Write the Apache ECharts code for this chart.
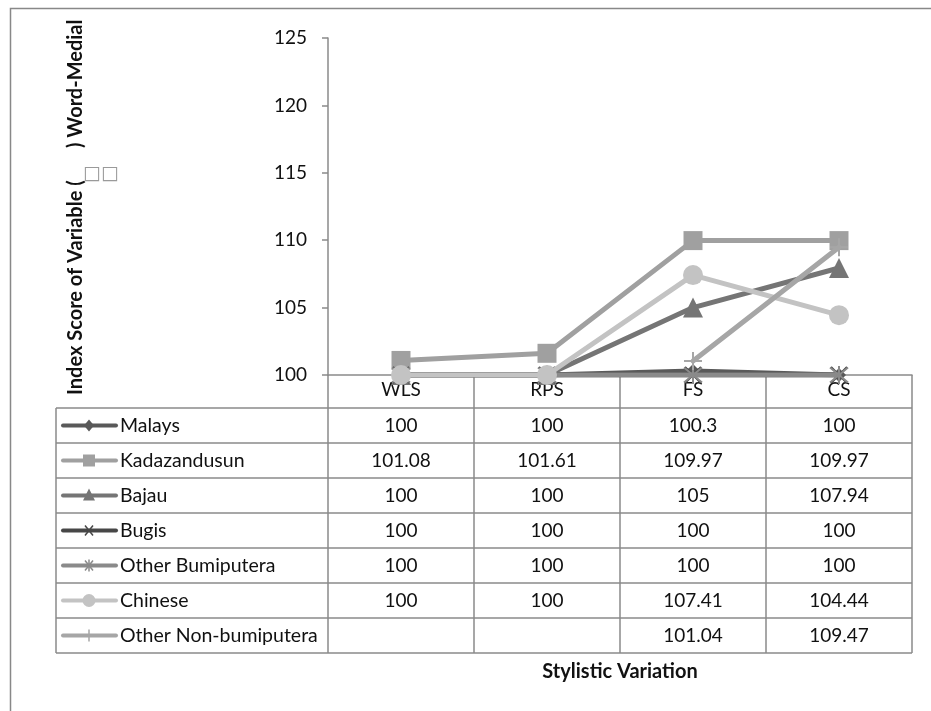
<!DOCTYPE html>
<html><head><meta charset="utf-8">
<script src="https://cdn.jsdelivr.net/npm/echarts@6/dist/echarts.min.js"></script>
<style>html,body{margin:0;padding:0;background:#fff}#c{width:931px;height:711px}</style>
</head><body><div id="c"></div>
<script>
// ---- data ----
const categories = ['WLS', 'RPS', 'FS', 'CS'];
const seriesNames = ['Malays', 'Kadazandusun', 'Bajau', 'Bugis', 'Other Bumiputera', 'Chinese', 'Other Non-bumiputera'];
const malays = [100, 100, 100.3, 100];
const kadazandusun = [101.08, 101.61, 109.97, 109.97];
const bajau = [100, 100, 105, 107.94];
const bugis = [100, 100, 100, 100];
const otherBumiputera = [100, 100, 100, 100];
const chinese = [100, 100, 107.41, 104.44];
const otherNonBumiputera = [null, null, 101.04, 109.47];
const yMin = 100, yMax = 125, yInterval = 5;
const xTitle = 'Stylistic Variation';
const yTitleA = 'Index Score of Variable (';
const yTitleB = ') Word-Medial';
const missingGlyphs = '\u25A1\u25A1';

// ---- styles ----
const FONT = 'Lato';
const FS_TXT = 19;
const colors = ['#595959', '#a0a0a0', '#757575', '#474747', '#8a8a8a', '#c3c3c3', '#a6a6a6'];
const xPath = 'path://M0,0L10,10M10,0L0,10';
const starPath = 'path://M0,0L10,10M10,0L0,10M5,-1L5,11';
const plusPath = 'path://M0,5L10,5M5,0L5,10';
const symbols = ['diamond', 'rect', 'triangle', xPath, starPath, 'circle', plusPath];
const symSizes = [14, 19, 20, 16, 18, 20, 18];
const strokeOnly = [false, false, false, true, true, false, true];
const allData = [malays, kadazandusun, bajau, bugis, otherBumiputera, chinese, otherNonBumiputera];

const chart = echarts.init(document.getElementById('c'), null, {renderer: 'canvas'});

const series = allData.map((d, i) => ({
  name: seriesNames[i],
  type: 'line',
  data: d,
  symbol: symbols[i],
  symbolSize: symSizes[i],
  showSymbol: true,
  connectNulls: false,
  lineStyle: {color: colors[i], width: 5, cap: 'round', join: 'round'},
  itemStyle: strokeOnly[i]
    ? {color: 'rgba(0,0,0,0)', borderColor: colors[i], borderWidth: 2}
    : {color: colors[i], borderWidth: 0},
  emphasis: {disabled: true},
  animation: false,
  z: 2 + i
}));

chart.setOption({
  animation: false,
  textStyle: {fontFamily: FONT},
  grid: {left: 328, right: 19, top: 38, bottom: 336, containLabel: false},
  xAxis: {
    type: 'category',
    data: categories,
    boundaryGap: true,
    axisLine: {lineStyle: {color: '#8a8a8a', width: 1.5}},
    axisTick: {show: false},
    axisLabel: {color: '#111', fontSize: FS_TXT, fontFamily: FONT, margin: 5}
  },
  yAxis: {
    type: 'value',
    min: yMin, max: yMax, interval: yInterval,
    axisLine: {show: true, lineStyle: {color: '#8a8a8a', width: 1.5}},
    axisTick: {show: true, length: 6, lineStyle: {color: '#8a8a8a', width: 1.5}},
    splitLine: {show: false},
    axisLabel: {color: '#111', fontSize: FS_TXT, fontFamily: FONT, margin: 21}
  },
  series: series
});

// ---- data table & titles ----
const g = [];
const lineCol = '#8a8a8a';
const centers = categories.map((c, i) => chart.convertToPixel({xAxisIndex: 0}, i));
const colW = centers[1] - centers[0];
const colEdges = [centers[0] - colW / 2].concat(centers.map(c => c + colW / 2));
const axisY = chart.convertToPixel({yAxisIndex: 0}, yMin);
const headerH = 33, rowH = 35, tableLeft = 56;
const rowTop = axisY + headerH;
const nRows = seriesNames.length;
const tableBottom = rowTop + rowH * nRows;
const tableRight = colEdges[colEdges.length - 1];

// outer frame
g.push({type: 'rect', shape: {x: 10.5, y: 8.5, width: 960, height: 760}, style: {fill: 'none', stroke: '#888', lineWidth: 1.5}, z: 0});

// vertical lines (category columns)
colEdges.forEach((x) => {
  g.push({type: 'line', shape: {x1: x, y1: axisY, x2: x, y2: tableBottom}, style: {stroke: lineCol, lineWidth: 1.5}, z: 1});
});
g.push({type: 'line', shape: {x1: tableLeft, y1: rowTop, x2: tableLeft, y2: tableBottom}, style: {stroke: lineCol, lineWidth: 1.5}, z: 1});
// horizontal lines
for (let r = 0; r <= nRows; r++) {
  const y = rowTop + rowH * r;
  g.push({type: 'line', shape: {x1: tableLeft, y1: y, x2: tableRight, y2: y}, style: {stroke: lineCol, lineWidth: 1.5}, z: 1});
}

// rows: legend keys, names, values
seriesNames.forEach((name, r) => {
  const cy = rowTop + rowH * r + rowH / 2;
  const col = colors[r];
  const kx = 89;
  g.push({type: 'line', shape: {x1: 63, y1: cy, x2: 116, y2: cy}, style: {stroke: col, lineWidth: 4, lineCap: 'round'}, z: 3});
  const sym = symbols[r];
  if (sym === 'diamond') {
    g.push({type: 'polygon', shape: {points: [[kx, cy - 6], [kx + 5, cy], [kx, cy + 6], [kx - 5, cy]]}, style: {fill: col}, z: 4});
  } else if (sym === 'rect') {
    g.push({type: 'rect', shape: {x: kx - 6, y: cy - 6, width: 12, height: 12}, style: {fill: col}, z: 4});
  } else if (sym === 'triangle') {
    g.push({type: 'polygon', shape: {points: [[kx, cy - 7], [kx + 6, cy + 5], [kx - 6, cy + 5]]}, style: {fill: col}, z: 4});
  } else if (sym === xPath) {
    g.push({type: 'line', shape: {x1: kx - 4, y1: cy - 5, x2: kx + 4, y2: cy + 5}, style: {stroke: col, lineWidth: 1.5}, z: 4});
    g.push({type: 'line', shape: {x1: kx + 4, y1: cy - 5, x2: kx - 4, y2: cy + 5}, style: {stroke: col, lineWidth: 1.5}, z: 4});
  } else if (sym === starPath) {
    g.push({type: 'line', shape: {x1: kx - 4, y1: cy - 5, x2: kx + 4, y2: cy + 5}, style: {stroke: col, lineWidth: 1.5}, z: 4});
    g.push({type: 'line', shape: {x1: kx + 4, y1: cy - 5, x2: kx - 4, y2: cy + 5}, style: {stroke: col, lineWidth: 1.5}, z: 4});
    g.push({type: 'line', shape: {x1: kx, y1: cy - 6, x2: kx, y2: cy + 6}, style: {stroke: col, lineWidth: 1.5}, z: 4});
  } else if (sym === 'circle') {
    g.push({type: 'circle', shape: {cx: kx, cy: cy, r: 6.5}, style: {fill: col}, z: 4});
  } else {
    g.push({type: 'line', shape: {x1: kx, y1: cy - 6, x2: kx, y2: cy + 6}, style: {stroke: col, lineWidth: 1.5}, z: 4});
  }
  g.push({type: 'text', x: 120, y: cy, style: {text: name, fill: '#111', font: (FS_TXT + 0.5) + 'px ' + FONT, textAlign: 'left', textVerticalAlign: 'middle'}, z: 4});
  allData[r].forEach((v, c) => {
    if (v === null) return;
    g.push({type: 'text', x: centers[c], y: cy, style: {text: String(v), fill: '#111', font: FS_TXT + 'px ' + FONT, textAlign: 'center', textVerticalAlign: 'middle'}, z: 4});
  });
});

// axis titles
g.push({type: 'text', x: (colEdges[0] + tableRight) / 2, y: 672, style: {text: xTitle, fill: '#111', font: 'bold 20px ' + FONT, textAlign: 'center', textVerticalAlign: 'middle'}, z: 4});
g.push({type: 'text', x: 76, y: 395, rotation: Math.PI / 2, style: {text: yTitleA, fill: '#111', font: 'bold 20px ' + FONT, textAlign: 'left', textVerticalAlign: 'middle'}, z: 4});
g.push({type: 'text', x: 76, y: 148, rotation: Math.PI / 2, style: {text: yTitleB, fill: '#111', font: 'bold 20px ' + FONT, textAlign: 'left', textVerticalAlign: 'middle'}, z: 4});
g.push({type: 'text', x: 83, y: 174, style: {text: missingGlyphs, fill: '#9a9a9a', font: '19px "DejaVu Sans"', textAlign: 'left', textVerticalAlign: 'middle'}, z: 4});

chart.setOption({graphic: g});
</script>
</body></html>
